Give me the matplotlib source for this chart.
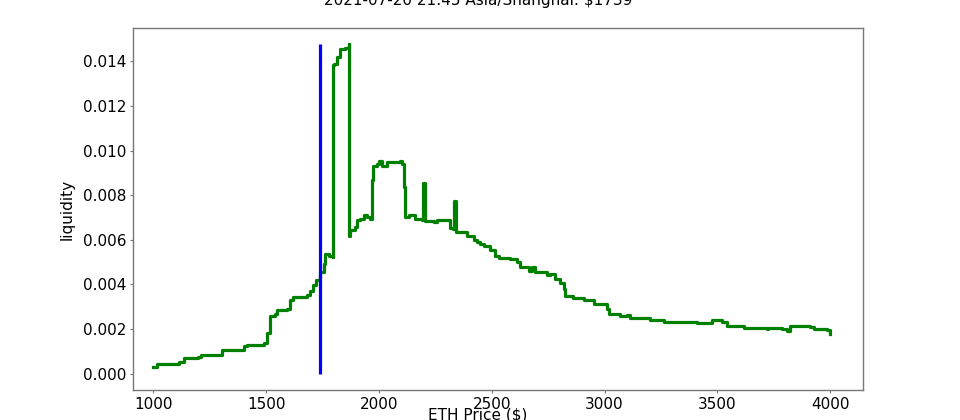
import matplotlib
matplotlib.use('Agg')
import matplotlib.pyplot as plt

title = '2021-07-20 21:45 Asia/Shanghai: \\$1739'
current_price = 1739

price = [1000, 1015, 1104, 1112, 1134, 1200, 1210, 1296, 1304, 1400, 1415, 1489,
         1504, 1505, 1516, 1541, 1548, 1592, 1604, 1621, 1680, 1695, 1707, 1722,
         1739, 1755, 1762, 1777, 1796, 1797, 1800, 1813, 1828, 1851, 1865, 1866,
         1873, 1895, 1902, 1917, 1932, 1947, 1961, 1969, 1973, 1991, 2002, 2013,
         2035, 2094, 2102, 2112, 2116, 2131, 2153, 2161, 2190, 2195, 2205, 2206,
         2213, 2242, 2257, 2301, 2316, 2328, 2331, 2342, 2343, 2345, 2389, 2405,
         2419, 2434, 2448, 2464, 2493, 2516, 2530, 2582, 2612, 2626, 2663, 2678,
         2693, 2744, 2759, 2781, 2803, 2818, 2826, 2862, 2907, 2951, 2995, 3010,
         3018, 3025, 3069, 3099, 3114, 3202, 3261, 3409, 3475, 3520, 3542, 3616,
         3719, 3726, 3785, 3807, 3822, 3911, 3926, 3985, 4000]
liquidity = [0.00031, 0.00044, 0.00044, 0.00053, 0.00070, 0.00072, 0.00081, 0.00085,
             0.00106, 0.00123, 0.00130, 0.00136, 0.00148, 0.00181, 0.00260, 0.00268,
             0.00283, 0.00290, 0.00328, 0.00342, 0.00353, 0.00372, 0.00395, 0.00420,
             0.00455, 0.00492, 0.00537, 0.00525, 0.00522, 0.01382, 0.01390, 0.01419,
             0.01457, 0.01461, 0.01476, 0.00619, 0.00642, 0.00657, 0.00687, 0.00694,
             0.00709, 0.00701, 0.00694, 0.00866, 0.00933, 0.00941, 0.00953, 0.00933,
             0.00948, 0.00953, 0.00940, 0.00836, 0.00701, 0.00709, 0.00709, 0.00694,
             0.00687, 0.00854, 0.00854, 0.00682, 0.00682, 0.00679, 0.00687, 0.00687,
             0.00654, 0.00649, 0.00772, 0.00772, 0.00634, 0.00634, 0.00619, 0.00615,
             0.00597, 0.00589, 0.00579, 0.00574, 0.00555, 0.00529, 0.00519, 0.00515,
             0.00500, 0.00477, 0.00462, 0.00480, 0.00455, 0.00444, 0.00447, 0.00425,
             0.00405, 0.00380, 0.00350, 0.00340, 0.00328, 0.00313, 0.00313, 0.00290,
             0.00268, 0.00268, 0.00260, 0.00262, 0.00248, 0.00241, 0.00230, 0.00226,
             0.00238, 0.00229, 0.00215, 0.00203, 0.00200, 0.00206, 0.00200, 0.00193,
             0.00212, 0.00208, 0.00200, 0.00197, 0.00178]

fig = plt.figure(figsize=(9.6, 4.2), dpi=100)
ax = fig.add_axes([133 / 960, 30 / 420, 730 / 960, 362 / 420])

ax.plot(price, liquidity, color='green', linewidth=2.3, drawstyle='steps-post')
ax.vlines(current_price, 0, max(liquidity), color='blue', linewidth=2.3)
ax.set_xlim(910, 4145)

for side in ax.spines.values():
    side.set_color('#777777')
    side.set_linewidth(1.0)
ax.tick_params(length=2.5, pad=2.5, width=0.8, color='#777777', labelsize=11)

ax.set_ylabel('liquidity', fontsize=11, labelpad=6)
fig.text(478 / 960, 1 - 407 / 420, 'ETH Price (\\$)', ha='center', va='top', fontsize=11)
fig.text(478 / 960, 1 - 5 / 420, title, ha='center', va='baseline', fontsize=11)

fig.savefig('out.png', dpi=100)
